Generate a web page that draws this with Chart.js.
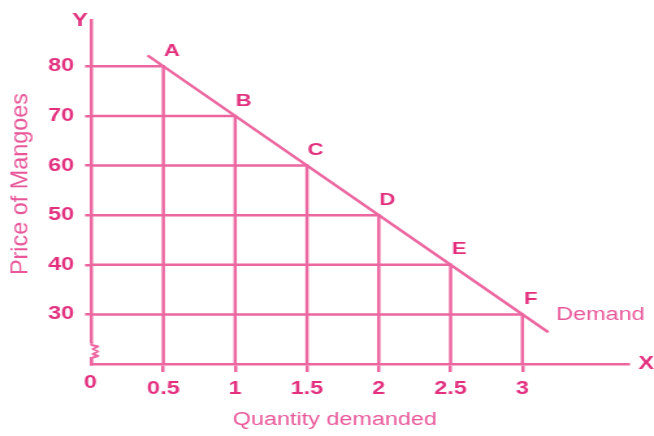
<!DOCTYPE html>
<html>
<head>
<meta charset="utf-8">
<script src="https://cdn.jsdelivr.net/npm/chart.js@4/dist/chart.umd.min.js"></script>
<style>
  html,body{margin:0;padding:0;background:#fff;overflow:hidden;}
  #wrap{width:503px;height:436px;transform:scaleX(1.3002);transform-origin:0 0;}
  canvas{display:block;}
</style>
</head>
<body>
<div id="wrap"><canvas id="c" width="503" height="436"></canvas></div>
<script>
// ---- data ----
const pointNames = ['A','B','C','D','E','F'];
const quantity   = [0.5, 1, 1.5, 2, 2.5, 3];
const price      = [80, 70, 60, 50, 40, 30];
const demandStart = [0.39, 82.2];
const demandEnd   = [3.18, 26.4];
const xTickValues = [0.5, 1, 1.5, 2, 2.5, 3];
const yTickValues = [30, 40, 50, 60, 70, 80];
const xAxisTitle = 'Quantity demanded';
const yAxisTitle = 'Price of Mangoes';
const curveName  = 'Demand';

const lineColor = '#ec67a0';
const textColor = '#e2307f';
const softText  = '#e8579a';
const FONT = 'Liberation Sans, Arial, sans-serif';
const Y_BASE = 20;

const datasets = [];
datasets.push({
  data: [{x: demandStart[0], y: demandStart[1]}, {x: demandEnd[0], y: demandEnd[1]}],
  borderColor: lineColor, borderWidth: 2.5, pointRadius: 0, showLine: true, fill: false
});
quantity.forEach((q, i) => {
  datasets.push({
    data: [{x: 0, y: price[i]}, {x: q, y: price[i]}, {x: q, y: Y_BASE}],
    borderColor: lineColor, borderWidth: 2.5, pointRadius: 0, showLine: true, fill: false,
    tension: 0
  });
});

const extras = {
  id: 'extras',
  afterDraw(chart) {
    const ctx = chart.ctx, xs = chart.scales.x, ys = chart.scales.y, ca = chart.chartArea;
    ctx.save();
    // axis break on y-axis
    const ax = ca.left;
    ctx.fillStyle = '#fff';
    ctx.fillRect(ax - 3, ca.bottom - 21, 6, 14);
    ctx.strokeStyle = lineColor; ctx.lineWidth = 2; ctx.lineJoin = 'round';
    ctx.beginPath();
    ctx.moveTo(ax, ca.bottom - 22);
    ctx.lineTo(ax, ca.bottom - 19);
    ctx.lineTo(ax + 5, ca.bottom - 17.5);
    ctx.lineTo(ax + 1, ca.bottom - 15);
    ctx.lineTo(ax + 5, ca.bottom - 12.5);
    ctx.lineTo(ax + 1, ca.bottom - 10);
    ctx.lineTo(ax + 5, ca.bottom - 8);
    ctx.lineTo(ax, ca.bottom - 6);
    ctx.lineTo(ax, ca.bottom);
    ctx.stroke();

    // point letters
    ctx.fillStyle = textColor;
    ctx.font = 'bold 17px ' + FONT;
    ctx.textAlign = 'center'; ctx.textBaseline = 'middle';
    pointNames.forEach((n, i) => {
      const px = xs.getPixelForValue(quantity[i]);
      const py = ys.getPixelForValue(price[i]);
      ctx.fillText(n, px + 6.5, py - 15);
    });

    // axis letters and origin
    ctx.font = 'bold 18px ' + FONT;
    ctx.fillText('Y', ca.left - 9, ca.top);
    ctx.fillText('X', ca.right + 14, ca.bottom);
    ctx.fillText('0', xs.getPixelForValue(0) - 1, ca.bottom + 19);

    // curve name
    ctx.fillStyle = softText;
    ctx.font = '18px ' + FONT;
    ctx.textAlign = 'left';
    ctx.fillText(curveName, xs.getPixelForValue(demandEnd[0]) + 6, ys.getPixelForValue(30) + 1);

    // x title
    ctx.textBaseline = 'alphabetic';
    ctx.fillText(xAxisTitle, 179, 425);

    // y title
    ctx.translate(16.2, 184);
    ctx.rotate(-Math.PI / 2);
    ctx.scale(1.3, 1);
    ctx.textAlign = 'center'; ctx.textBaseline = 'middle';
    ctx.fillText(yAxisTitle, 0, 0);
    ctx.restore();
  }
};

new Chart(document.getElementById('c'), {
  type: 'scatter',
  data: { datasets },
  options: {
    responsive: false, animation: false, devicePixelRatio: 1,
    layout: { padding: { left: 0, right: 19.9, top: 20.7, bottom: 0 } },
    plugins: { legend: { display: false }, tooltip: { enabled: false } },
    scales: {
      x: {
        type: 'linear', min: 0, max: 3.736,
        afterFit(s) { s.height = 72; },
        afterBuildTicks(s) { s.ticks = xTickValues.map(v => ({ value: v })); },
        ticks: { font: { size: 18, weight: 'bold', family: FONT }, color: textColor, padding: 6, maxRotation: 0, autoSkip: false, callback: v => String(v) },
        grid: { drawOnChartArea: false, drawTicks: true, tickLength: 8, color: lineColor, lineWidth: 2.5 },
        border: { display: true, color: lineColor, width: 2.5 }
      },
      y: {
        type: 'linear', min: Y_BASE, max: 89.2,
        afterFit(s) { s.width = 70.4; },
        afterBuildTicks(s) { s.ticks = yTickValues.map(v => ({ value: v })); },
        ticks: { font: { size: 18, weight: 'bold', family: FONT }, color: textColor, padding: 8.5, autoSkip: false, callback: v => String(v) },
        grid: { drawOnChartArea: false, drawTicks: true, tickLength: 5, color: lineColor, lineWidth: 2.5 },
        border: { display: true, color: lineColor, width: 2.5 }
      }
    }
  },
  plugins: [extras]
});
</script>
</body>
</html>
